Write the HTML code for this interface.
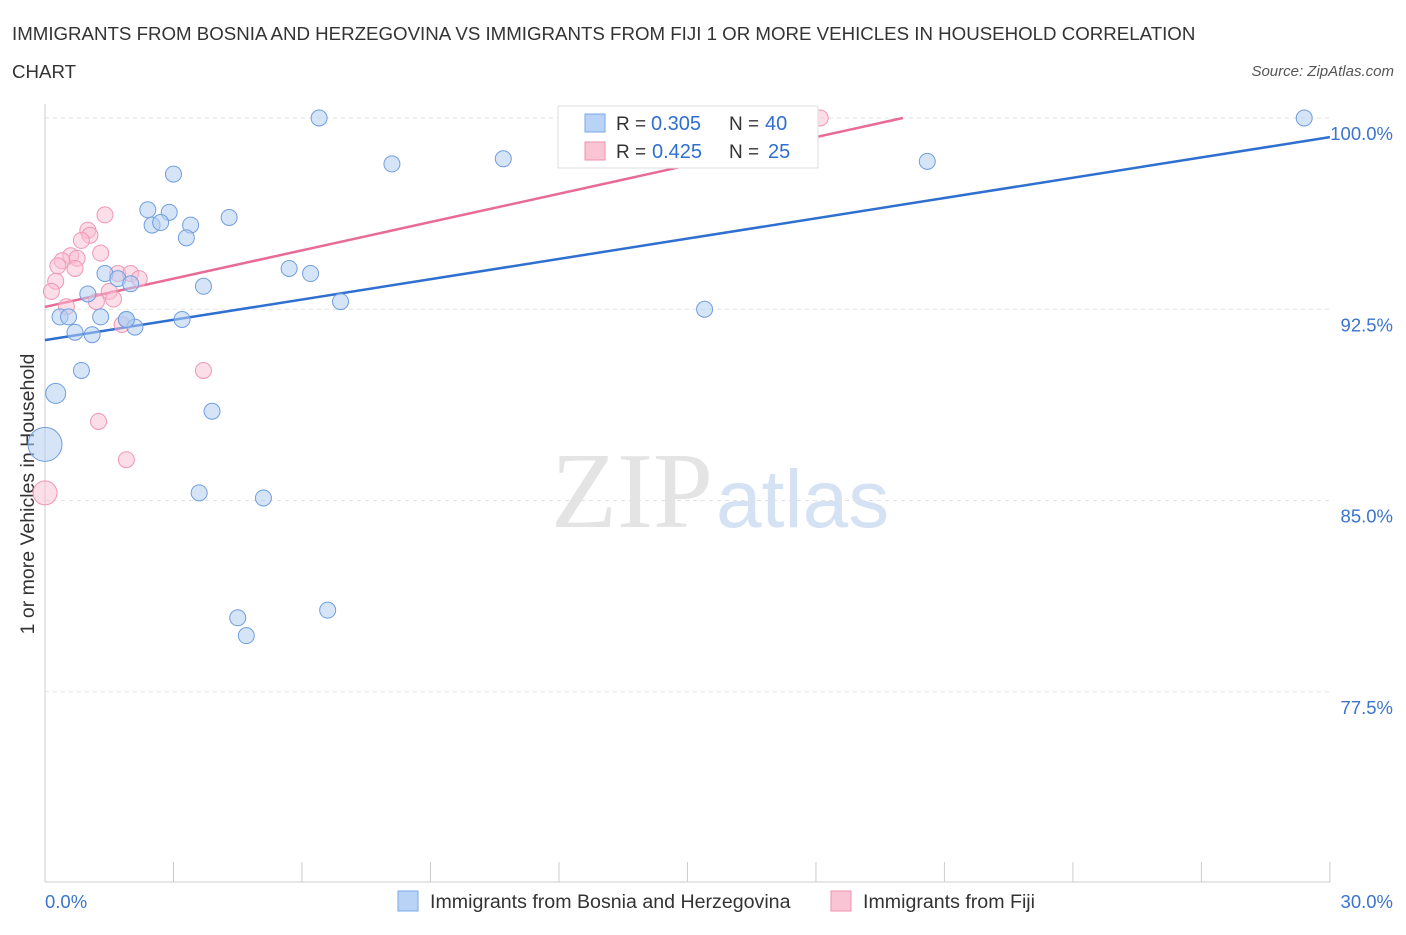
<!DOCTYPE html>
<html><head><meta charset="utf-8"><style>
body{margin:0;background:#fff;font-family:"Liberation Sans",sans-serif;}
</style></head><body>
<svg width="1406" height="930" xmlns="http://www.w3.org/2000/svg">
<text x="12" y="40" font-size="18.7" fill="#333">IMMIGRANTS FROM BOSNIA AND HERZEGOVINA VS IMMIGRANTS FROM FIJI 1 OR MORE VEHICLES IN HOUSEHOLD CORRELATION</text>
<text x="12" y="78" font-size="18.7" fill="#333">CHART</text>
<text x="1394" y="76" font-size="15" fill="#555" font-style="italic" text-anchor="end">Source: ZipAtlas.com</text>
<text x="713" y="527" font-size="108" fill="#e4e4e4" text-anchor="end" font-family="Liberation Serif">ZIP</text>
<text x="716" y="527" font-size="82" fill="#d4e2f4">atlas</text>
<g id="grid"></g>
<g id="axes"></g>
<text x="34" y="494" font-size="19.5" fill="#333" text-anchor="middle" transform="rotate(-90 34 494)">1 or more Vehicles in Household</text>
<g id="lines"></g>
<g id="pts"></g>
<g>
<rect x="558" y="106" width="260" height="62" fill="#fff" stroke="#ddd"/>
<rect x="585" y="114" width="20" height="18" fill="#b8d3f5" stroke="#7aa8e6"/>
<text x="616" y="130" font-size="19" fill="#333">R =</text>
<text x="651" y="130" font-size="20" fill="#2f6fd0">0.305</text>
<text x="729" y="130" font-size="19" fill="#333">N =</text>
<text x="765" y="130" font-size="20" fill="#2f6fd0">40</text>
<rect x="585" y="142" width="20" height="18" fill="#f9c5d4" stroke="#ef8fac"/>
<text x="616" y="158" font-size="19" fill="#333">R =</text>
<text x="652" y="158" font-size="20" fill="#2f6fd0">0.425</text>
<text x="729" y="158" font-size="19" fill="#333">N =</text>
<text x="768" y="158" font-size="20" fill="#2f6fd0">25</text>
</g>
<g>
<rect x="398" y="891" width="20" height="20" fill="#b8d3f5" stroke="#7aa8e6"/>
<text x="430" y="908" font-size="19.6" fill="#333">Immigrants from Bosnia and Herzegovina</text>
<rect x="831" y="891" width="20" height="20" fill="#f9c5d4" stroke="#ef8fac"/>
<text x="863" y="908" font-size="19.6" fill="#333">Immigrants from Fiji</text>
</g>
</svg>
<script>
const yTicks=[100,92.5,85,77.5];
const yTickLabels=["100.0%","92.5%","85.0%","77.5%"];
const xTickLabels=["0.0%","30.0%"];
const blueX=[6.4,29.4,8.1,10.7,20.6,3.0,2.4,2.9,4.3,2.5,2.7,3.4,3.3,5.7,6.2,1.4,1.7,2.0,3.7,1.0,6.9,15.4,0.35,0.55,1.3,1.9,2.1,3.2,0.7,1.1,0.85,0.25,3.9,0.0,3.6,5.1,4.5,4.7,6.6,1.9];
const blueY=[100,100,98.2,98.4,98.3,97.8,96.4,96.3,96.1,95.8,95.9,95.8,95.3,94.1,93.9,93.9,93.7,93.5,93.4,93.1,92.8,92.5,92.2,92.2,92.2,92.1,91.8,92.1,91.6,91.5,90.1,89.2,88.5,87.2,85.3,85.1,80.4,79.7,80.7,92.1];
const blueR=[8,8,8,8,8,8,8,8,8,8,8,8,8,8,8,8,8,8,8,8,8,8,8,8,8,8,8,8,8,8,8,10,8,17,8,8,8,8,8,8];
const pinkX=[18.1,1.4,1.0,1.05,0.85,0.6,1.3,0.4,0.3,0.75,0.7,0.25,0.15,1.7,2.0,2.2,1.5,1.6,1.2,0.5,1.8,3.7,1.25,1.9,0.0];
const pinkY=[100,96.2,95.6,95.4,95.2,94.6,94.7,94.4,94.2,94.5,94.1,93.6,93.2,93.9,93.9,93.7,93.2,92.9,92.8,92.6,91.9,90.1,88.1,86.6,85.3];
const pinkR=[8,8,8,8,8,8,8,8,8,8,8,8,8,8,8,8,8,8,8,8,8,8,8,8,12];
const blueLine=[91.29,99.25];
const pinkLine=[92.59,100,20.03];
const X=v=>45+v*42.83, Y=v=>118+(100-v)*25.5;
const ns="http://www.w3.org/2000/svg";
function mk(p,t,a){const e=document.createElementNS(ns,t);for(const k in a)e.setAttribute(k,a[k]);document.getElementById(p).appendChild(e);return e;}
yTicks.forEach((t,i)=>{
 const g=mk('grid','line',{x1:45,x2:1330,y1:Y(t),y2:Y(t),stroke:'#e2e2e2','stroke-dasharray':'4,4'});
 
 
 const l=mk('grid','text',{x:1393,y:Y(t)+22,'font-size':18.5,fill:'#3a74cc','text-anchor':'end'});l.textContent=yTickLabels[i];
 
 
});
mk('axes','line',{x1:45,x2:45,y1:104,y2:882,stroke:'#ccc'});
mk('axes','line',{x1:45,x2:1330,y1:882,y2:882,stroke:'#ccc'});
for(let i=0;i<=10;i++){const t=mk('axes','line',{x1:X(i*3),x2:X(i*3),y1:862,y2:882,stroke:'#ccc'});
 
 }
[[0,'start',X(0)],[1,'end',1393]].forEach(([i,a,x])=>{const l=mk('axes','text',{x:x,y:908,'font-size':18.5,fill:'#3a74cc','text-anchor':a});l.textContent=xTickLabels[i];
 
 });
const bl=mk('lines','line',{x1:X(0),y1:Y(blueLine[0]),x2:X(30),y2:Y(blueLine[1]),stroke:'#2f6fd0','stroke-width':2.5});


const pl=mk('lines','line',{x1:X(0),y1:Y(pinkLine[0]),x2:X(pinkLine[2]),y2:Y(pinkLine[1]),stroke:'#e86b94','stroke-width':2.5});


pinkX.forEach((x,i)=>{const c=mk('pts','circle',{cx:X(x),cy:Y(pinkY[i]),r:pinkR[i],fill:'rgba(249,190,210,0.5)',stroke:'#f096b3','stroke-width':1});
 
 });
blueX.forEach((x,i)=>{const c=mk('pts','circle',{cx:X(x),cy:Y(blueY[i]),r:blueR[i],fill:'rgba(180,206,243,0.55)',stroke:'#6f9edf','stroke-width':1});
 
 });
</script>
</body></html>
